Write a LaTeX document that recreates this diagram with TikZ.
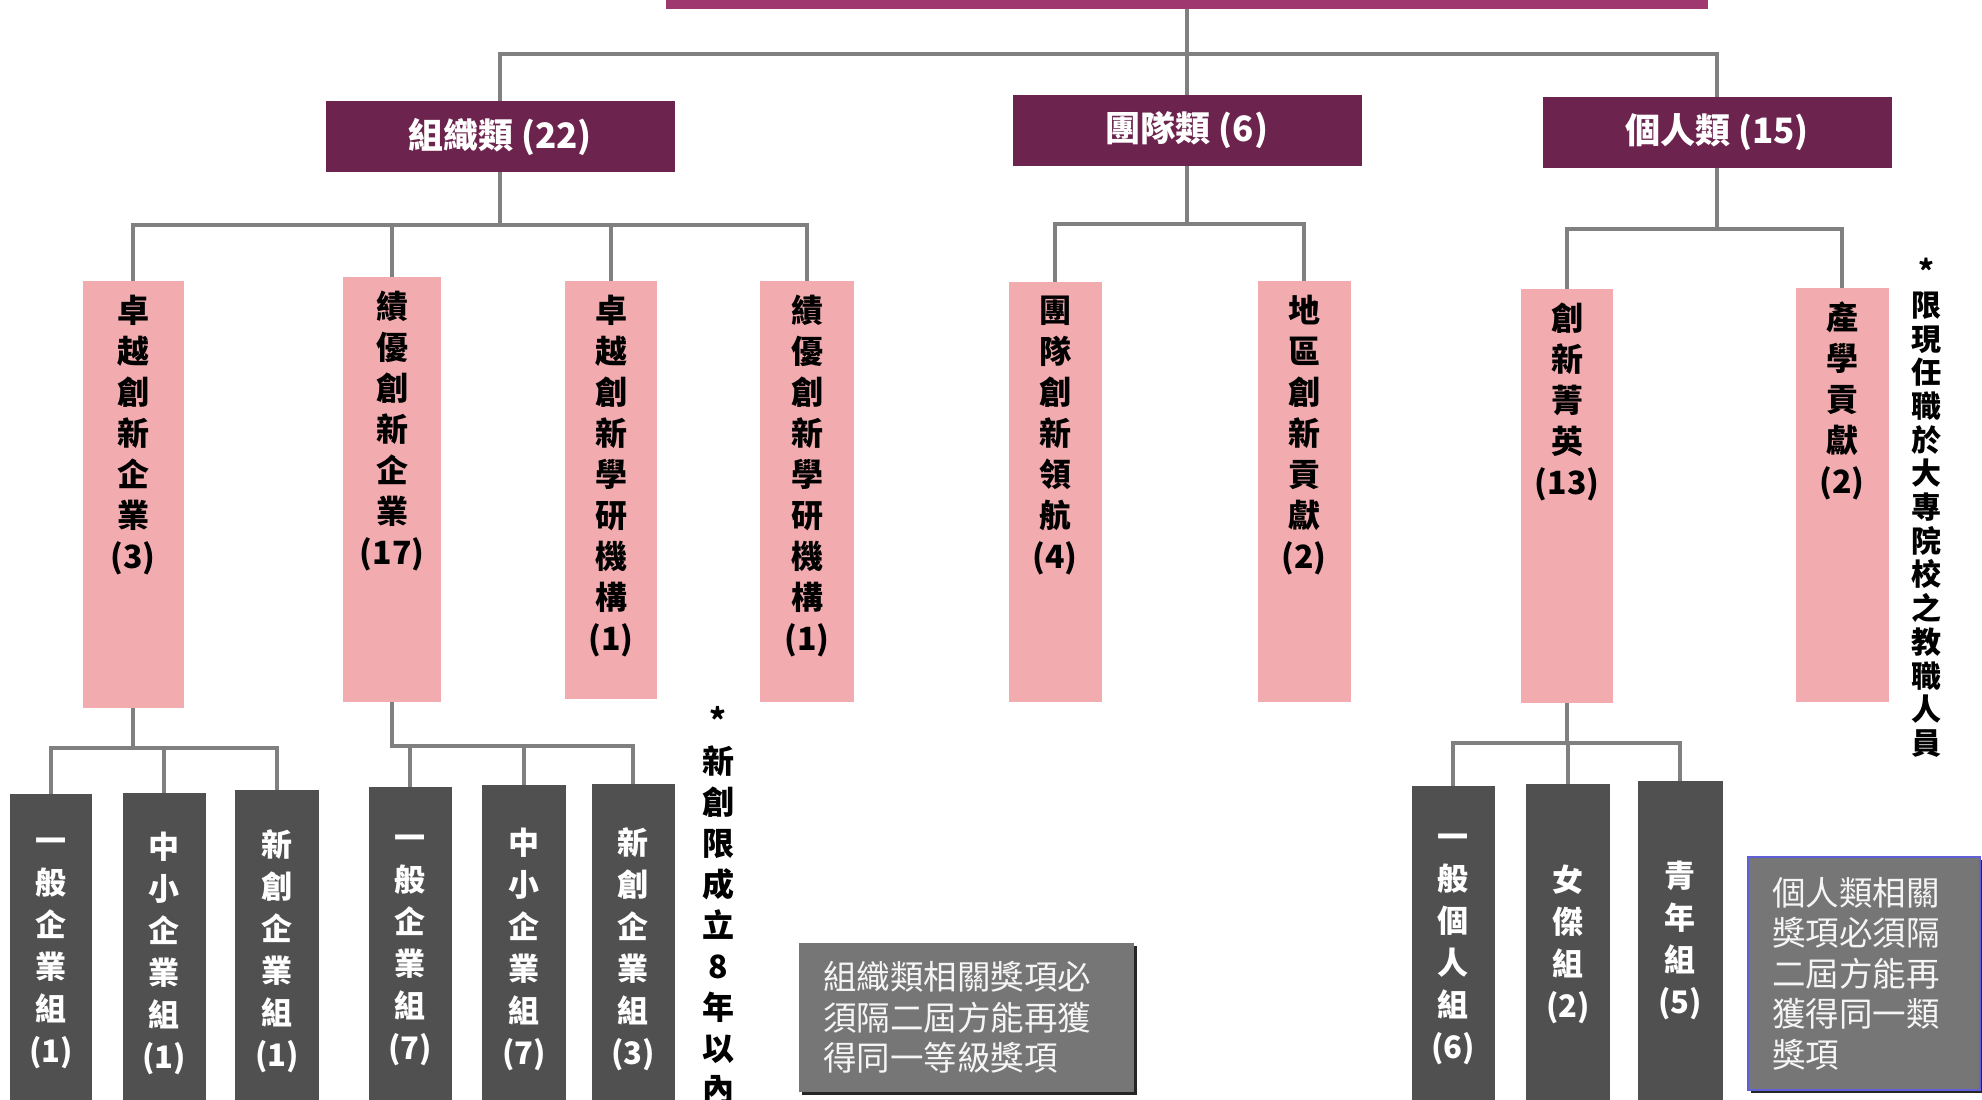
\documentclass[tikz,border=0pt]{standalone}
\usepackage{fontspec}
\setmainfont{Noto Sans CJK TC}
\usetikzlibrary{calc,positioning,shadows}

\definecolor{barmagenta}{RGB}{160,56,112}
\definecolor{catpurple}{RGB}{108,36,78}
\definecolor{awardpink}{RGB}{242,172,175}
\definecolor{groupgray}{RGB}{80,80,80}
\definecolor{linegray}{RGB}{128,128,128}
\definecolor{notegray}{RGB}{118,118,118}
\definecolor{noteline}{RGB}{95,95,215}

\begin{document}
\begin{tikzpicture}[x=1pt,y=-1pt,
conn/.style={draw=linegray,line width=4pt},
catbox/.style={fill=catpurple,text=white,font=\fontsize{35}{40}\selectfont\bfseries,minimum width=349pt,minimum height=71pt,inner sep=0pt},
pinkbox/.style={fill=awardpink,inner sep=0pt},
pinktxt/.style={anchor=north,align=center,inner sep=0pt,font=\fontsize{32}{41}\selectfont\bfseries},
groupbox/.style={fill=groupgray,text=white,align=center,inner sep=0pt,font=\fontsize{31}{42}\selectfont\bfseries},
notebox/.style={fill=notegray,text=white!92!gray,align=left,inner sep=0pt,font=\fontsize{33.5}{40.5}\selectfont,drop shadow={shadow xshift=3pt,shadow yshift=-3pt,fill=black!85,opacity=1}},
remark/.style={anchor=north,align=center,inner sep=0pt,font=\fontsize{32}{41}\selectfont\bfseries}
]

% Kép határa
\useasboundingbox (0,0) rectangle (1982,1100);
\clip (0,0) rectangle (1982,1100);

% Felső sáv
\node[fill=barmagenta,minimum width=1042pt,minimum height=60pt,inner sep=0pt] (award) at (1187,-21) {};

% Kategóriák
\node[catbox] (org) at (500,136.5) {組織類 (22)};
\node[catbox] (team) at (1187,130.5) {團隊類 (6)};
\node[catbox] (indiv) at (1717,132.5) {個人類 (15)};

\foreach \c in {org,team,indiv}{
\draw[conn] (award.south) -- ++(0,45) -| (\c.north);
}

% Díjak (rózsaszín oszlopok)
\foreach \nm/\cx/\cy/\bh/\bw/\txt in {
zc1/133/494.5/427/101/{卓\\越\\創\\新\\企\\業\\(3)},
jy1/392/489.5/425/98/{績\\優\\創\\新\\企\\業\\(17)},
zc2/611/490/418/92/{卓\\越\\創\\新\\學\\研\\機\\構\\(1)},
jy2/807/491.5/421/94/{績\\優\\創\\新\\學\\研\\機\\構\\(1)},
td/1055/492/420/93/{團\\隊\\創\\新\\領\\航\\(4)},
dq/1304/491.5/421/93/{地\\區\\創\\新\\貢\\獻\\(2)},
cx/1567/496/414/92/{創\\新\\菁\\英\\(13)},
cx2/1842/495/414/93/{產\\學\\貢\\獻\\(2)}}{
\node[pinkbox,minimum width=\bw pt,minimum height=\bh pt] (\nm) at (\cx,\cy) {};
\node[pinktxt] (\nm-t) at ([yshift=-14pt]\nm.north) {\txt};
}

\foreach \c in {zc1,jy1,zc2,jy2}{
\draw[conn] (org.south) -- ++(0,53) -| (\c.north);
}
\foreach \c in {td,dq}{
\draw[conn] (team.south) -- ++(0,58) -| (\c.north);
}
\foreach \c in {cx,cx2}{
\draw[conn] (indiv.south) -- ++(0,61) -| (\c.north);
}

% Csoportok (sötét oszlopok)
\foreach \nm/\cx/\cy/\bh/\bw/\txt in {
a1/51/953.5/319/82/{一\\般\\企\\業\\組\\(1)},
a2/164/953/320/83/{中\\小\\企\\業\\組\\(1)},
a3/277/951.5/323/84/{新\\創\\企\\業\\組\\(1)},
b1/410/950.5/327/83/{一\\般\\企\\業\\組\\(7)},
b2/524/949.5/329/84/{中\\小\\企\\業\\組\\(7)},
b3/633/949/330/83/{新\\創\\企\\業\\組\\(3)},
c1/1453/949.5/327/83/{一\\般\\個\\人\\組\\(6)},
c2/1568/944.5/321/84/{女\\傑\\組\\(2)},
c3/1680/940.5/319/85/{青\\年\\組\\(5)}}{
\node[groupbox,minimum width=\bw pt,minimum height=\bh pt] (\nm) at (\cx,\cy) {\txt};
}

\foreach \c in {a1,a2,a3}{
\draw[conn] (zc1.south) -- ++(0,40) -| (\c.north);
}
\foreach \c in {b1,b2,b3}{
\draw[conn] (jy1.south) -- ++(0,44) -| (\c.north);
}
\foreach \c in {c1,c2,c3}{
\draw[conn] (cx.south) -- ++(0,40) -| (\c.north);
}

% Megjegyzések
\node[notebox,minimum width=335pt,minimum height=149pt,text width=287pt] (rule1) at (966.5,1017.5) {組織類相關獎項必\\須隔二屆方能再獲\\得同一等級獎項};
\node[notebox,draw=noteline,line width=1.5pt,minimum width=232pt,minimum height=233pt,text width=184pt] (rule2) at (1864,973.5) {個人類相關\\獎項必須隔\\二屆方能再\\獲得同一類\\獎項};

\node[remark] (newco) at (718,706) {*\\新\\創\\限\\成\\立\\8\\年\\以\\內};
\node[remark,font=\fontsize{30}{33.7}\selectfont\bfseries] (faculty) at (1926,258) {*\\限\\現\\任\\職\\於\\大\\專\\院\\校\\之\\教\\職\\人\\員};

\end{tikzpicture}
\end{document}
